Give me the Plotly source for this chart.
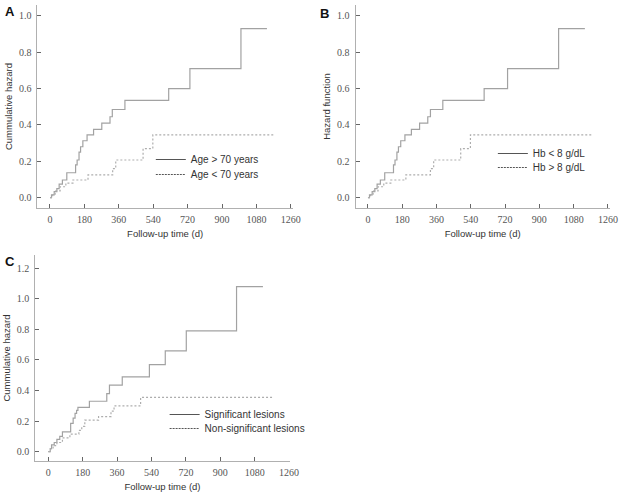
import plotly.graph_objects as go

W, H = 630, 493

# ---------------- data (days, cumulative hazard) ----------------
x_ticks = [0, 180, 360, 540, 720, 900, 1080, 1260]
y_ticks_ab = [0.0, 0.2, 0.4, 0.6, 0.8, 1.0]
y_ticks_c = [0.0, 0.2, 0.4, 0.6, 0.8, 1.0, 1.2]

# Panel A
age_gt70_t = [0, 8, 22, 36, 48, 65, 88, 134, 142, 152, 160, 172, 194, 228, 271, 314, 326, 392, 621, 732, 999, 1135]
age_gt70_h = [0, 0.015, 0.033, 0.05, 0.074, 0.097, 0.137, 0.18, 0.207, 0.25, 0.28, 0.313, 0.345, 0.376, 0.41, 0.445, 0.485, 0.535, 0.60, 0.71, 0.93, 0.93]
age_lt70_t = [0, 14, 27, 53, 83, 120, 199, 328, 344, 487, 538, 1177]
age_lt70_h = [0, 0.015, 0.037, 0.06, 0.08, 0.097, 0.125, 0.16, 0.207, 0.27, 0.345, 0.345]

# Panel B
hb_lt8_t = [0, 8, 22, 36, 48, 65, 88, 134, 142, 152, 160, 172, 194, 228, 271, 314, 328, 393, 610, 733, 1001, 1139]
hb_lt8_h = [0, 0.015, 0.033, 0.05, 0.074, 0.097, 0.137, 0.18, 0.207, 0.25, 0.28, 0.313, 0.345, 0.376, 0.41, 0.445, 0.485, 0.535, 0.60, 0.71, 0.93, 0.93]
hb_gt8_t = [0, 14, 27, 53, 83, 120, 199, 328, 345, 487, 538, 1177]
hb_gt8_h = [0, 0.015, 0.037, 0.06, 0.08, 0.097, 0.125, 0.16, 0.207, 0.27, 0.345, 0.345]

# Panel C
sig_t = [0, 10, 17, 31, 45, 60, 74, 117, 130, 140, 148, 155, 215, 306, 320, 387, 529, 612, 722, 985, 1123]
sig_h = [0, 0.02, 0.045, 0.06, 0.08, 0.10, 0.13, 0.185, 0.22, 0.25, 0.27, 0.29, 0.33, 0.38, 0.435, 0.49, 0.57, 0.66, 0.79, 1.08, 1.08]
nonsig_t = [0, 12, 25, 45, 74, 113, 160, 175, 191, 263, 328, 344, 483, 1171]
nonsig_h = [0, 0.02, 0.04, 0.06, 0.09, 0.115, 0.14, 0.165, 0.207, 0.23, 0.265, 0.30, 0.355, 0.355]

# ---------------- styling ----------------
CURVE = "#a2a2a2"
DASHC = "#adadad"
LEGC = "#555555"
AXC = "#b0b0b0"
SANS = "Liberation Sans, Arial, sans-serif"
SERIF = "Liberation Serif, Times New Roman, serif"


def dom_x(a, b):
    return [a / W, b / W]


def dom_y(top, bottom):
    return [1 - bottom / H, 1 - top / H]


fig = go.Figure()

panels = [
    ("x", "y", ("legend", "legend2"), age_gt70_t, age_gt70_h, age_lt70_t, age_lt70_h, "Age > 70 years", "Age < 70 years"),
    ("x2", "y2", ("legend3", "legend4"), hb_lt8_t, hb_lt8_h, hb_gt8_t, hb_gt8_h, "Hb < 8 g/dL", "Hb > 8 g/dL"),
    ("x3", "y3", ("legend5", "legend6"), sig_t, sig_h, nonsig_t, nonsig_h, "Significant lesions", "Non-significant lesions"),
]

for xa, ya, lg, st, sh, dt, dh, n1, n2 in panels:
    fig.add_trace(go.Scatter(x=st, y=sh, xaxis=xa, yaxis=ya, mode="lines", line_shape="hv",
                             line=dict(color=CURVE, width=1.2), showlegend=False, name=n1))
    fig.add_trace(go.Scatter(x=dt, y=dh, xaxis=xa, yaxis=ya, mode="lines", line_shape="hv",
                             line=dict(color=DASHC, width=1.2, dash="2px,2px"), showlegend=False, name=n2))
    fig.add_trace(go.Scatter(x=[None], y=[None], xaxis=xa, yaxis=ya, mode="lines",
                             line=dict(color=LEGC, width=1.2), name=n1, legend=lg[0]))
    fig.add_trace(go.Scatter(x=[None], y=[None], xaxis=xa, yaxis=ya, mode="lines",
                             line=dict(color=LEGC, width=1.0, dash="2px,1px"), name=n2, legend=lg[1]))

axis_common = dict(showgrid=False, zeroline=False, showline=True, linecolor=AXC, linewidth=1,
                   ticks="inside", ticklen=4, tickcolor="#666666", tickwidth=1,
                   tickfont=dict(family=SERIF, size=10, color="#555555"))

xt = dict(axis_common, tickvals=x_ticks, ticklabelstandoff=2,
          title=dict(text="Follow-up time (d)", font=dict(family=SANS, size=9.5, color="#333333"), standoff=6))

fig.update_layout(
    width=W, height=H, margin=dict(l=0, r=0, t=0, b=0),
    paper_bgcolor="white", plot_bgcolor="white",
    xaxis=dict(xt, domain=dom_x(38, 297), range=[-65.5, 1270], anchor="y"),
    yaxis=dict(axis_common, domain=dom_y(5, 208), range=[-0.057, 1.06], tickvals=y_ticks_ab,
               tickformat=".1f", anchor="x", ticklabelstandoff=3,
               title=dict(text="Cummulative hazard", font=dict(family=SANS, size=9.5, color="#333333"), standoff=4)),
    xaxis2=dict(xt, domain=dom_x(360.7, 618.6), range=[-65.2, 1269.6], anchor="y2"),
    yaxis2=dict(axis_common, domain=dom_y(5, 208), range=[-0.057, 1.06], tickvals=y_ticks_ab,
                tickformat=".1f", anchor="x2", ticklabelstandoff=3,
                title=dict(text="Hazard function", font=dict(family=SANS, size=9.5, color="#333333"), standoff=4)),
    xaxis3=dict(xt, domain=dom_x(35.7, 294), range=[-68.6, 1263.6], anchor="y3"),
    yaxis3=dict(axis_common, domain=dom_y(255, 461), range=[-0.061, 1.287], tickvals=y_ticks_c,
                tickformat=".1f", anchor="x3", ticklabelstandoff=3,
                title=dict(text="Cummulative hazard", font=dict(family=SANS, size=9.5, color="#333333"), standoff=4)),
)

leg_common = dict(font=dict(family=SANS, size=10, color="#333333"), bgcolor="rgba(0,0,0,0)",
                  itemwidth=30, tracegroupgap=0, xanchor="left", yanchor="top")
fig.update_layout(
    legend=dict(leg_common, x=153 / W, y=1 - 145 / H),
    legend2=dict(leg_common, x=153 / W, y=1 - 160 / H),
    legend3=dict(leg_common, x=500 / W, y=1 - 139 / H),
    legend4=dict(leg_common, x=500 / W, y=1 - 153 / H),
    legend5=dict(leg_common, x=167 / W, y=1 - 400 / H),
    legend6=dict(leg_common, x=167 / W, y=1 - 414 / H),
)

for txt, px, py in [("A", 3, 12), ("B", 323, 13), ("C", 3, 261)]:
    fig.add_annotation(text="<b>%s</b>" % txt, x=px / W, y=1 - py / H, xref="paper", yref="paper",
                       xanchor="left", yanchor="middle", showarrow=False,
                       font=dict(family=SANS, size=13, color="#111111"))

fig.write_html("out.html", config={"displayModeBar": False},
               post_script="document.body.style.margin='0';document.body.style.overflow='hidden';")
